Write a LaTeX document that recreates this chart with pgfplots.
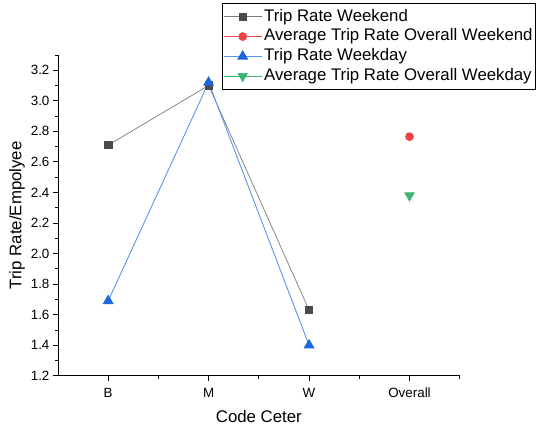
\documentclass[border=0pt]{standalone}
\usepackage{pgfplots}
\pgfplotsset{compat=1.18}
\usepackage{fontspec}
\setmainfont{Liberation Sans}
\definecolor{wkend}{HTML}{4A4A4A}
\definecolor{wkendline}{HTML}{7A7A7A}
\definecolor{avgred}{HTML}{F04545}
\definecolor{wkday}{HTML}{1F66DD}
\definecolor{wkdayline}{HTML}{5A94F0}
\definecolor{avggreen}{HTML}{3CB371}
\begin{document}
\begin{tikzpicture}
\begin{axis}[
  scale only axis,
  width=402pt, height=321pt,
  axis lines*=left,
  xmin=0.5, xmax=4.5,
  ymin=1.2, ymax=3.3,
  xtick={1,2,3,4},
  xticklabels={B,M,W,Overall},
  minor xtick={1.5,2.5,3.5,4.5},
  ytick={1.2,1.4,...,3.21},
  minor ytick={1.3,1.5,...,3.31},
  yticklabel style={/pgf/number format/.cd,fixed,fixed zerofill,precision=1},
  /pgf/number format/assume math mode=true,
  tick align=outside,
  major tick length=5pt,
  minor tick length=3pt,
  tick style={black, line width=0.8pt},
  axis line style={black, line width=0.8pt},
  tick label style={font=\fontsize{13.4}{15}\selectfont},
  xticklabel style={yshift=-4pt},
  xlabel={Code Ceter},
  ylabel={Trip Rate/Empolyee},
  label style={font=\fontsize{16.8}{19}\selectfont},
  xlabel style={yshift=-5pt},
  ylabel style={yshift=-1pt},
  legend style={at={(0.408,1.162)}, anchor=north west, draw=black, line width=0.8pt,
    font=\fontsize{16.8}{18}\selectfont, row sep=0pt, inner xsep=1pt, inner ysep=3.5pt,
    nodes={inner ysep=2pt, text height=12.3pt, text depth=3.5pt},
    cells={anchor=west}},
  legend cell align=left,
  legend image code/.code={\draw[mark repeat=2,mark phase=2] plot coordinates {(0pt,0pt) (19pt,0pt) (38pt,0pt)};},
]
\addplot[wkendline, line width=0.7pt, mark=square*, mark size=3.7pt,
  mark options={fill=wkend, draw=wkend}] coordinates {(1,2.71) (2,3.10) (3,1.63)};
\addlegendentry{Trip Rate Weekend}
\addplot[avgred, line width=0.7pt, mark=*, mark size=4pt,
  mark options={fill=avgred, draw=avgred}] coordinates {(4,2.765)};
\addlegendentry{Average Trip Rate Overall Weekend}
\addplot[wkdayline, line width=0.9pt, mark=triangle*, mark size=5.5pt,
  mark options={fill=wkday, draw=wkday}] coordinates {(1,1.69) (2,3.12) (3,1.40)};
\addlegendentry{Trip Rate Weekday}
\addplot[avggreen, line width=0.7pt, mark=triangle*, mark size=5.5pt,
  mark options={fill=avggreen, draw=avggreen, rotate=180}] coordinates {(4,2.38)};
\addlegendentry{Average Trip Rate Overall Weekday}
\end{axis}
\path (current axis.south west) ++(-58pt,-51pt) rectangle ++(536pt,427pt);
\end{tikzpicture}
\end{document}
